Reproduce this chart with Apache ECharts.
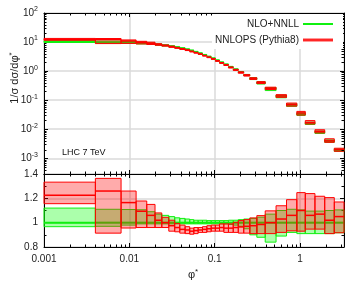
<!DOCTYPE html>
<html>
<head>
<meta charset="utf-8">
<script src="https://cdn.jsdelivr.net/npm/echarts@6/dist/echarts.min.js"></script>
<style>
html, body { margin: 0; padding: 0; background: #fff; }
#main { width: 354px; height: 288px; }
</style>
</head>
<body>
<div id="main"></div>
<script>
// phi* bin edges (ATLAS 7 TeV binning)
var binEdges = [0, 0.004, 0.008, 0.012, 0.016, 0.020, 0.024, 0.029, 0.034, 0.039, 0.045,
    0.051, 0.057, 0.064, 0.072, 0.081, 0.091, 0.102, 0.114, 0.128, 0.145, 0.165, 0.189,
    0.219, 0.258, 0.312, 0.391, 0.524, 0.695, 0.918, 1.153, 1.496, 1.947, 2.522, 3.277];

// NLO+NNLL central value, 1/sigma dsigma/dphi*
var nloNnll = [10.0, 9.7, 9.4, 9.0, 8.6, 8.1, 7.6, 7.1, 6.6, 6.1, 5.6, 5.1, 4.6, 4.1, 3.6,
    3.15, 2.75, 2.35, 2.0, 1.7, 1.4, 1.15, 0.93, 0.74, 0.57, 0.41, 0.255, 0.136, 0.067,
    0.033, 0.016, 0.0079, 0.0039, 0.0019];

// NLO+NNLL band, ratio to its own central value
var nloLo = [0.967, 0.97, 0.98, 0.99, 0.99, 0.99, 0.99, 0.99, 0.99, 0.99, 0.99, 0.99, 0.99,
    0.99, 0.99, 0.99, 0.99, 0.99, 0.99, 0.99, 0.985, 0.98, 0.97, 0.95, 0.90, 0.88, 0.84,
    0.89, 0.92, 0.91, 0.91, 0.91, 0.91, 0.917];
var nloHi = [1.12, 1.11, 1.108, 1.106, 1.09, 1.07, 1.06, 1.05, 1.04, 1.035, 1.03, 1.025,
    1.02, 1.02, 1.02, 1.017, 1.017, 1.017, 1.017, 1.017, 1.02, 1.02, 1.025, 1.03, 1.035,
    1.045, 1.07, 1.1, 1.11, 1.105, 1.095, 1.095, 1.1, 1.105];

// NNLOPS (Pythia8), ratio to NLO+NNLL
var nnlopsRatio = [1.225, 1.26, 1.165, 1.094, 1.06, 1.02, 1.0, 0.975, 0.96, 0.945, 0.94,
    0.93, 0.935, 0.94, 0.945, 0.95, 0.955, 0.955, 0.96, 0.955, 0.955, 0.96, 0.965, 0.97,
    0.975, 0.985, 1.0, 1.03, 1.06, 1.1, 1.06, 1.07, 1.02, 1.05];
var nnlopsLo = [1.156, 0.914, 0.956, 0.96, 0.96, 0.96, 0.96, 0.93, 0.925, 0.914, 0.91,
    0.905, 0.91, 0.92, 0.92, 0.925, 0.93, 0.93, 0.93, 0.92, 0.92, 0.92, 0.914, 0.914, 0.91,
    0.91, 0.91, 0.92, 0.933, 0.93, 0.947, 0.947, 0.91, 0.917];
var nnlopsHi = [1.333, 1.364, 1.26, 1.178, 1.15, 1.08, 1.044, 1.02, 0.994, 0.98, 0.967,
    0.955, 0.96, 0.96, 0.967, 0.975, 0.98, 0.98, 0.99, 0.99, 0.99, 1.003, 1.017, 1.025,
    1.039, 1.058, 1.097, 1.139, 1.189, 1.247, 1.239, 1.217, 1.206, 1.17];

var X_MIN = 0.001, X_MAX = 3.277;
var Y_MIN = Math.pow(10, -3.54), Y_MAX = 100;
var FONT = 'Liberation Sans, Arial, sans-serif';
var GREEN = '#10f010', RED = '#ff0000';
var GREEN_FILL = 'rgba(0,255,0,0.33)', RED_FILL = 'rgba(255,0,0,0.33)';
var GRID_COL = '#dadada';

// rows: [x0, x1, lo, hi, centre]; top panel scales by the NLO+NNLL value
function makeRows(centre, lo, hi, absolute) {
    return nloNnll.map(function (v, i) {
        var f = absolute ? v : 1;
        var c = centre ? centre[i] : 1;
        return [Math.max(binEdges[i], X_MIN), binEdges[i + 1], f * lo[i], f * hi[i], f * c];
    });
}

function boxRenderer(lineColor, fillColor, centreWidth) {
    return function (params, api) {
        var a = api.coord([api.value(0), api.value(3)]);
        var b = api.coord([api.value(1), api.value(2)]);
        var c0 = api.coord([api.value(0), api.value(4)]);
        var c1 = api.coord([api.value(1), api.value(4)]);
        return {
            type: 'group',
            children: [
                { type: 'rect', shape: { x: a[0], y: a[1], width: b[0] - a[0], height: b[1] - a[1] },
                  style: { fill: fillColor, stroke: lineColor, lineWidth: 1 } },
                { type: 'line', shape: { x1: c0[0], y1: c0[1], x2: c1[0], y2: c1[1] },
                  style: { stroke: lineColor, lineWidth: centreWidth } }
            ]
        };
    };
}

// minor ticks at 2..9 x 10^k for log axes (echarts does not place them there)
function logMinors(lo, hi) {
    var out = [];
    for (var k = -5; k <= 2; k++) {
        for (var m = 2; m <= 9; m++) {
            var v = m * Math.pow(10, k);
            if (v > lo && v < hi) out.push(v);
        }
    }
    return out;
}
var xMinors = logMinors(X_MIN, X_MAX);
var yMinors = logMinors(Y_MIN, Y_MAX);

function minorTickRenderer(doY, yRef) {
    return function (params, api) {
        var cs = params.coordSys;
        var L = 2.5;
        var kids = [];
        var st = { stroke: '#000', lineWidth: 1 };
        xMinors.forEach(function (t) {
            var x = Math.round(api.coord([t, yRef])[0]) + 0.5;
            kids.push({ type: 'line', shape: { x1: x, y1: cs.y, x2: x, y2: cs.y + L }, style: st });
            kids.push({ type: 'line', shape: { x1: x, y1: cs.y + cs.height, x2: x, y2: cs.y + cs.height - L }, style: st });
        });
        if (doY) {
            yMinors.forEach(function (t) {
                var y = Math.round(api.coord([0.01, t])[1]) + 0.5;
                kids.push({ type: 'line', shape: { x1: cs.x, y1: y, x2: cs.x + L, y2: y }, style: st });
                kids.push({ type: 'line', shape: { x1: cs.x + cs.width, y1: y, x2: cs.x + cs.width - L, y2: y }, style: st });
            });
        }
        return { type: 'group', children: kids };
    };
}

function isDecade(v) {
    var e = Math.log10(v);
    return Math.abs(e - Math.round(e)) < 1e-6;
}

var axisLine = { show: true, lineStyle: { color: '#000', width: 1 } };
var axisTick = { show: true, inside: true, length: 4, lineStyle: { color: '#000', width: 1 } };
var splitLine = { show: true, lineStyle: { color: GRID_COL, width: 1.5 } };
var labelStyle = { color: '#222', fontSize: 10, fontFamily: FONT };

function xAxisCfg(grid, pos, labels, split) {
    return {
        type: 'log', logBase: 10, gridIndex: grid, position: pos, min: X_MIN, max: X_MAX,
        axisLine: axisLine, axisTick: axisTick,
        splitLine: split ? splitLine : { show: false },
        axisLabel: labels ? Object.assign({
            margin: 7,
            formatter: function (v) { return isDecade(v) ? String(v) : ''; }
        }, labelStyle) : { show: false }
    };
}

function logYCfg(pos, labels) {
    return {
        type: 'log', logBase: 10, gridIndex: 0, position: pos, min: Y_MIN, max: Y_MAX,
        axisLine: axisLine, axisTick: axisTick,
        splitLine: labels ? splitLine : { show: false },
        axisLabel: labels ? Object.assign({
            margin: 6,
            formatter: function (v) {
                if (!isDecade(v)) return '';
                return '10{s|' + Math.round(Math.log10(v)) + '}';
            },
            rich: { s: { fontSize: 7, fontFamily: FONT, color: '#222', padding: [0, 0, 7, 0] } }
        }, labelStyle) : { show: false }
    };
}

function ratioYCfg(pos, labels) {
    return {
        type: 'value', gridIndex: 1, position: pos, min: 0.8, max: 1.4, interval: 0.2,
        axisLine: axisLine, axisTick: axisTick,
        minorTick: { show: true, splitNumber: 2, length: 2.5, lineStyle: { color: '#000' } },
        splitLine: labels ? splitLine : { show: false },
        axisLabel: labels ? Object.assign({ margin: 6 }, labelStyle) : { show: false }
    };
}

var myChart = echarts.init(document.getElementById('main'));

var option = {
    backgroundColor: '#fff',
    animation: false,
    grid: [
        { left: 44, right: 10, top: 13, height: 161 },
        { left: 44, right: 10, top: 174, height: 73 }
    ],
    xAxis: [
        xAxisCfg(0, 'bottom', false, true),
        xAxisCfg(0, 'top', false, false),
        xAxisCfg(1, 'bottom', true, true),
        xAxisCfg(1, 'top', false, false)
    ],
    yAxis: [
        logYCfg('left', true),
        logYCfg('right', false),
        ratioYCfg('left', true),
        ratioYCfg('right', false)
    ],
    series: [
        { type: 'custom', name: 'NLO+NNLL', xAxisIndex: 0, yAxisIndex: 0, silent: true,
          renderItem: boxRenderer(GREEN, GREEN_FILL, 2), encode: { x: [0, 1], y: [2, 3, 4] },
          data: makeRows(null, nloLo, nloHi, true) },
        { type: 'custom', name: 'NNLOPS (Pythia8)', xAxisIndex: 0, yAxisIndex: 0, silent: true,
          renderItem: boxRenderer(RED, RED_FILL, 1.5), encode: { x: [0, 1], y: [2, 3, 4] },
          data: makeRows(nnlopsRatio, nnlopsLo, nnlopsHi, true) },
        { type: 'custom', name: 'NLO+NNLL', xAxisIndex: 2, yAxisIndex: 2, silent: true,
          renderItem: boxRenderer(GREEN, GREEN_FILL, 2), encode: { x: [0, 1], y: [2, 3, 4] },
          data: makeRows(null, nloLo, nloHi, false) },
        { type: 'custom', name: 'NNLOPS (Pythia8)', xAxisIndex: 2, yAxisIndex: 2, silent: true,
          renderItem: boxRenderer(RED, RED_FILL, 1.5), encode: { x: [0, 1], y: [2, 3, 4] },
          data: makeRows(nnlopsRatio, nnlopsLo, nnlopsHi, false) },
        // minor ticks
        { type: 'custom', xAxisIndex: 0, yAxisIndex: 0, silent: true, z: 5,
          renderItem: minorTickRenderer(true, 1), data: [[0.01, 1]] },
        { type: 'custom', xAxisIndex: 2, yAxisIndex: 2, silent: true, z: 5,
          renderItem: minorTickRenderer(false, 1), data: [[0.01, 1]] }
    ],
    graphic: [
        { type: 'rect', z: 100, shape: { x: 212, y: 14, width: 131, height: 35 }, style: { fill: '#fff' } },
        { type: 'text', z: 101, x: 299, y: 24,
          style: { text: 'NLO+NNLL', align: 'right', verticalAlign: 'middle', fontSize: 10, fontFamily: FONT, fill: '#222' } },
        { type: 'line', z: 101, shape: { x1: 303, y1: 24, x2: 333, y2: 24 }, style: { stroke: GREEN, lineWidth: 2 } },
        { type: 'text', z: 101, x: 299, y: 40,
          style: { text: 'NNLOPS (Pythia8)', align: 'right', verticalAlign: 'middle', fontSize: 10, fontFamily: FONT, fill: '#222' } },
        { type: 'rect', z: 101, shape: { x: 303, y: 38, width: 30, height: 4 }, style: { fill: 'rgba(255,0,0,0.4)' } },
        { type: 'line', z: 102, shape: { x1: 303, y1: 40, x2: 333, y2: 40 }, style: { stroke: RED, lineWidth: 1.5 } },
        { type: 'text', z: 101, x: 62, y: 153,
          style: { text: 'LHC 7 TeV', verticalAlign: 'middle', fontSize: 9, fontFamily: FONT, fill: '#111' } },
        { type: 'text', z: 101, x: 15, y: 78, rotation: Math.PI / 2,
          style: { text: '1/σ dσ/dφ{s|*}', align: 'center', verticalAlign: 'middle', fontSize: 11, fontFamily: FONT, fill: '#222',
                   rich: { s: { fontSize: 8, fontFamily: FONT, fill: '#222', padding: [0, 0, 6, 0] } } } },
        { type: 'text', z: 101, x: 193, y: 275,
          style: { text: 'φ{s|*}', align: 'center', verticalAlign: 'middle', fontSize: 11, fontFamily: FONT, fill: '#222',
                   rich: { s: { fontSize: 8, fontFamily: FONT, fill: '#222', padding: [0, 0, 6, 0] } } } }
    ]
};

myChart.setOption(option);
</script>
</body>
</html>
